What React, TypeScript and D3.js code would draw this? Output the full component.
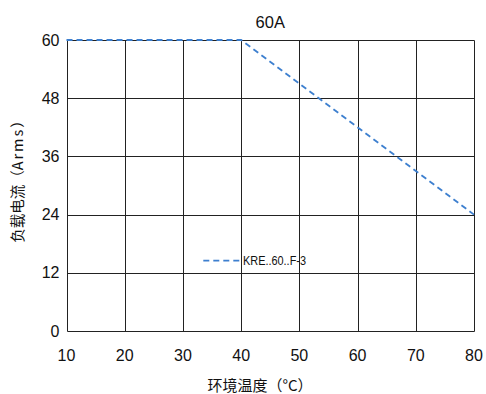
import React from "react";
import * as d3 from "d3";

const temperatures = [10, 40, 80];
const currents = [60, 60, 24];
const xTicks = [10, 20, 30, 40, 50, 60, 70, 80];
const yTicks = [0, 12, 24, 36, 48, 60];
const seriesName = "KRE..60..F-3";
const chartTitle = "60A";
const xTitle = "环境温度（°C）";
const yTitlePrefix = "负载电流（";
const yTitleUnit = "Arms";
const yTitleSuffix = "）";

const W = 486;
const H = 394;
const margin = { left: 66.5, right: 12, top: 40, bottom: 63 };

export default function App() {
  const x = d3.scaleLinear().domain([10, 80]).range([margin.left, W - margin.right]);
  const y = d3.scaleLinear().domain([0, 60]).range([H - margin.bottom, margin.top]);
  const pts = temperatures.map((t, i) => [t, currents[i]] as [number, number]);
  const line = d3.line<[number, number]>().x((d) => x(d[0])).y((d) => y(d[1]));
  const font = "Arial, 'Liberation Sans', 'Noto Sans CJK SC', sans-serif";
  const cjk = "'Noto Sans CJK SC', Arial, sans-serif";
  const snap = (v: number) => Math.round(v) + 0.5;
  const x0 = x(10), x1 = x(80), y0 = y(0), y1 = y(60);
  const legendY = y(14.5);
  const legendX = x(33.5);

  return (
    <svg width={W} height={H} style={{ position: "absolute", left: 0, top: 0, background: "#fff" }}>
      <rect x={0} y={0} width={W} height={H} fill="#fff" />
      <g stroke="#222" strokeWidth={1}>
        {xTicks.map((t) => (
          <line key={"gx" + t} x1={snap(x(t))} x2={snap(x(t))} y1={snap(y1)} y2={snap(y0)} />
        ))}
        {yTicks.map((t) => (
          <line key={"gy" + t} x1={snap(x0)} x2={snap(x1)} y1={snap(y(t))} y2={snap(y(t))} />
        ))}
      </g>
      <path d={line(pts) || ""} fill="none" stroke="#3d7fcf" strokeWidth={1.8} strokeDasharray="6,4" />
      <g fontFamily={font} fontSize={16} fill="#111">
        {yTicks.map((t) => (
          <text key={"ty" + t} x={x0 - 7} y={y(t)} textAnchor="end" dominantBaseline="central">
            {t}
          </text>
        ))}
        {xTicks.map((t) => (
          <text key={"tx" + t} x={x(t)} y={y0 + 30} textAnchor="middle">
            {t}
          </text>
        ))}
        <text x={(x0 + x1) / 2} y={28} textAnchor="middle" fontSize={16.5}>
          {chartTitle}
        </text>
      </g>
      <text x={260} y={391} textAnchor="middle" fontFamily={cjk} fontSize={15} fill="#111">
        {xTitle}
      </text>
      <text
        transform={`translate(23,178) rotate(-90)`}
        textAnchor="middle"
        fontFamily={cjk}
        fontSize={14.5}
        fill="#111"
      >
        {yTitlePrefix}
        <tspan letterSpacing={2}>{yTitleUnit}</tspan>
        {yTitleSuffix}
      </text>
      <line x1={legendX} x2={x(40)} y1={legendY} y2={legendY} stroke="#3d7fcf" strokeWidth={1.8} strokeDasharray="6,4" />
      <text
        x={243}
        y={legendY}
        dominantBaseline="central"
        fontFamily={font}
        fontSize={13}
        fill="#111"
        textLength={63}
        lengthAdjust="spacingAndGlyphs"
      >
        {seriesName}
      </text>
    </svg>
  );
}
